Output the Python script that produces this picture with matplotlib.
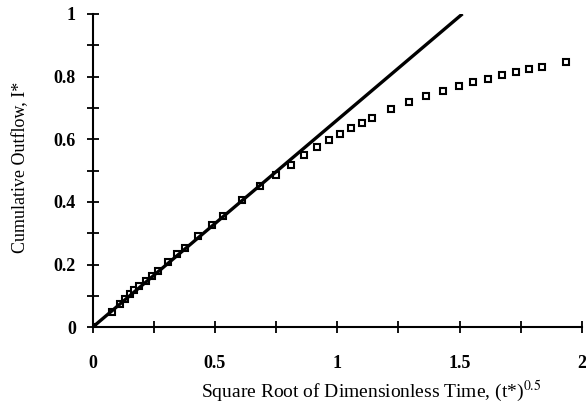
import matplotlib
matplotlib.use("Agg")
import matplotlib.pyplot as plt
from matplotlib.ticker import MultipleLocator

plt.rcParams['font.family'] = ['Liberation Serif', 'DejaVu Serif']
plt.rcParams['mathtext.fontset'] = 'stix'

# measured points, sqrt of dimensionless time vs cumulative outflow
sqrt_t = [0.0, 0.078, 0.110, 0.133, 0.153, 0.171, 0.189, 0.217, 0.242, 0.266,
          0.310, 0.344, 0.378, 0.432, 0.487, 0.532, 0.612, 0.685, 0.751, 0.811,
          0.865, 0.918, 0.967, 1.012, 1.056, 1.100, 1.141, 1.219, 1.293, 1.362,
          1.431, 1.496, 1.556, 1.617, 1.674, 1.730, 1.783, 1.836, 1.937]
outflow = [0.0, 0.049, 0.075, 0.090, 0.105, 0.118, 0.131, 0.149, 0.165, 0.180,
           0.208, 0.234, 0.254, 0.292, 0.325, 0.356, 0.407, 0.451, 0.487, 0.519,
           0.548, 0.574, 0.596, 0.618, 0.636, 0.653, 0.668, 0.695, 0.719, 0.737,
           0.755, 0.769, 0.783, 0.793, 0.805, 0.815, 0.823, 0.831, 0.845]

# straight early-time line
line_x = [0.0, 1.512]
line_y = [0.0, 1.0]

xtick_vals = [0, 0.5, 1, 1.5, 2]
xtick_text = ['0', '0.5', '1', '1.5', '2']
ytick_vals = [0, 0.2, 0.4, 0.6, 0.8, 1]
ytick_text = ['0', '0.2', '0.4', '0.6', '0.8', '1']

fig = plt.figure(figsize=(5.86, 4.07), dpi=100)
ax = fig.add_axes([0.158, 0.196, 0.835, 0.770])

ax.plot(sqrt_t, outflow, linestyle='none', marker='s', markersize=4.5,
        markerfacecolor='white', markeredgecolor='black', markeredgewidth=1.5,
        zorder=2)
# line drawn over the markers, like the original
ax.plot(line_x, line_y, color='black', linewidth=2.4, solid_capstyle='butt',
        zorder=3)

ax.set_xlim(0, 2)
ax.set_ylim(0, 1)
ax.spines['top'].set_visible(False)
ax.spines['right'].set_visible(False)
ax.spines['left'].set_linewidth(1.5)
ax.spines['bottom'].set_linewidth(1.5)

ax.set_xticks(xtick_vals)
ax.set_xticklabels(xtick_text, fontweight='bold')
ax.set_yticks(ytick_vals)
ax.set_yticklabels(ytick_text, fontweight='bold')
ax.xaxis.set_minor_locator(MultipleLocator(0.25))
ax.yaxis.set_minor_locator(MultipleLocator(0.1))

ax.tick_params(axis='both', which='both', direction='inout', length=8, width=1.3)
ax.tick_params(axis='x', which='major', pad=16, labelsize=13)
ax.tick_params(axis='y', which='major', pad=8, labelsize=13)

ax.set_xlabel('Square Root of Dimensionless Time, (t*)$^{0.5}$', fontsize=14)
ax.set_ylabel('Cumulative Outflow, I*', fontsize=13)
ax.xaxis.set_label_coords(0.57, -0.165)
ax.yaxis.set_label_coords(-0.13, 0.51)

fig.savefig('out.png', dpi=100)
